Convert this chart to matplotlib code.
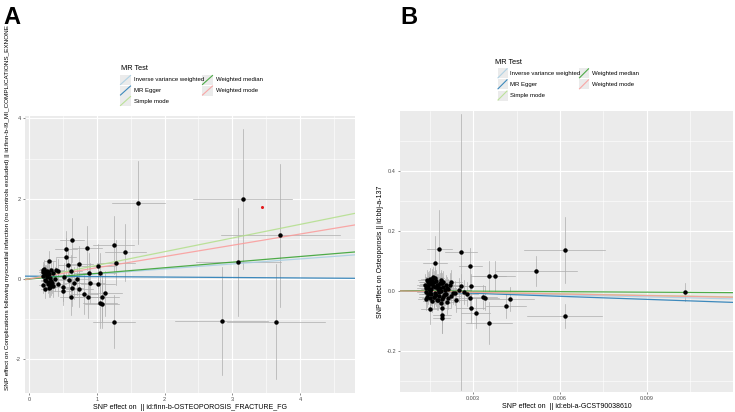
import matplotlib
matplotlib.use("Agg")
import matplotlib.pyplot as plt
from matplotlib.patches import Rectangle
from matplotlib.lines import Line2D
import numpy as np

plt.rcParams['font.family'] = ['Liberation Sans', 'DejaVu Sans']

W, H = 735, 412

# ---------------- Panel A data ----------------
a_x = [1.61, 3.15, 3.71, 3.09, 2.84, 3.64, 1.25, 1.25, 1.42, 1.28, 0.63, 0.85, 0.55, 0.55,
       0.58, 0.74, 1.02, 1.04, 0.89, 1.02, 0.90, 1.12, 1.07, 1.05, 1.08, 0.87, 0.81, 0.74,
       0.62, 0.64, 0.66, 0.71, 0.59, 0.62, 0.51, 0.50, 0.50, 0.43, 0.40, 0.43, 0.38, 0.30,
       0.21, 0.22, 0.23, 0.22, 0.20, 0.24, 0.26, 0.25, 0.27, 0.23, 0.21, 0.24, 0.28, 0.30,
       0.31, 0.29, 0.33, 0.35, 0.32, 0.34, 0.30, 0.27, 0.36, 0.25, 0.20, 0.28, 0.31, 0.33]
a_y = [1.90, 1.99, 1.09, 0.42, -1.05, -1.06, -1.06, 0.855, 0.66, 0.41, 0.98, 0.78, 0.75, 0.56,
       0.35, 0.37, 0.33, 0.14, 0.15, -0.13, -0.09, -0.36, -0.44, -0.61, -0.63, -0.46, -0.37, -0.25,
       -0.44, -0.23, -0.11, -0.01, -0.03, 0.19, 0.06, -0.19, -0.29, -0.13, 0.23, 0.20, 0.00, 0.45,
       0.22, 0.18, 0.12, 0.25, 0.08, 0.15, 0.20, 0.14, 0.10, -0.02, -0.15, -0.25, -0.12, -0.08,
       -0.20, -0.22, 0.22, 0.15, -0.05, -0.10, 0.12, 0.05, -0.18, -0.05, 0.17, 0.18, 0.02, -0.14]
a_sex = [0.39, 0.73, 0.88, 0.63, 0.68, 0.72, 0.31, 0.30, 0.30, 0.28, 0.18, 0.22, 0.16, 0.15,
         0.15, 0.20, 0.25, 0.25, 0.22, 0.25, 0.22, 0.25, 0.25, 0.25, 0.25, 0.22, 0.20, 0.20,
         0.16, 0.16, 0.16, 0.18, 0.15, 0.16, 0.14, 0.14, 0.14, 0.12, 0.11, 0.12, 0.10, 0.08,
         0.06, 0.06, 0.07, 0.06, 0.05, 0.07, 0.07, 0.07, 0.08, 0.06, 0.06, 0.07, 0.08, 0.08,
         0.09, 0.08, 0.09, 0.10, 0.09, 0.09, 0.08, 0.07, 0.10, 0.07, 0.05, 0.08, 0.09, 0.09]
a_sey = [1.04, 1.75, 1.78, 1.35, 1.35, 1.43, 0.65, 0.72, 0.72, 0.55, 0.55, 0.55, 0.45, 0.45,
         0.40, 0.45, 0.55, 0.50, 0.50, 0.50, 0.50, 0.55, 0.60, 0.60, 0.60, 0.50, 0.50, 0.45,
         0.45, 0.45, 0.40, 0.40, 0.40, 0.40, 0.35, 0.35, 0.35, 0.30, 0.30, 0.30, 0.30, 0.25,
         0.20, 0.20, 0.20, 0.22, 0.18, 0.20, 0.22, 0.20, 0.22, 0.20, 0.20, 0.22, 0.24, 0.25,
         0.25, 0.24, 0.26, 0.28, 0.25, 0.26, 0.24, 0.22, 0.28, 0.22, 0.18, 0.24, 0.25, 0.26]
a_red_x = [3.44]
a_red_y = [1.79]

# ---------------- Panel B data ----------------
b_x = [0.00183, 0.00258, 0.00169, 0.00290, 0.00354, 0.00375, 0.00518, 0.00616, 0.00616, 0.01033,
       0.00355, 0.00310, 0.00292, 0.00414, 0.00429, 0.00340, 0.00333, 0.00290, 0.00292, 0.00260,
       0.00223, 0.00220, 0.00253, 0.00268, 0.00278, 0.00238, 0.00240, 0.00192, 0.00193, 0.00193,
       0.00150, 0.00210, 0.00190,
       0.00135, 0.00140, 0.00145, 0.00150, 0.00155, 0.00160, 0.00165, 0.00170, 0.00175, 0.00180,
       0.00185, 0.00190, 0.00195, 0.00200, 0.00205, 0.00210, 0.00215, 0.00138, 0.00143, 0.00148,
       0.00153, 0.00158, 0.00163, 0.00168, 0.00173, 0.00178, 0.00183, 0.00188, 0.00193, 0.00198,
       0.00203, 0.00136, 0.00142, 0.00147, 0.00152, 0.00157, 0.00162, 0.00167, 0.00172, 0.00177,
       0.00182, 0.00187, 0.00192, 0.00197, 0.00202, 0.00207, 0.00139, 0.00144, 0.00149, 0.00154,
       0.00159, 0.00164, 0.00169, 0.00174, 0.00179, 0.00184, 0.00189, 0.00212, 0.00225, 0.00230]
b_y = [0.138, 0.129, 0.091, 0.082, 0.050, 0.048, 0.067, 0.137, -0.084, -0.005,
       -0.107, -0.075, -0.058, -0.050, -0.028, -0.025, -0.022, -0.026, 0.016, 0.016,
       0.030, 0.019, 0.002, -0.003, -0.011, -0.009, -0.030, -0.091, -0.080, -0.059,
       -0.062, -0.037, -0.040,
       0.020, 0.035, -0.010, 0.040, 0.005, 0.028, -0.020, 0.042, 0.012, -0.030,
       0.025, 0.000, 0.030, -0.015, 0.018, 0.010, -0.025, -0.005, 0.015, 0.030,
       -0.025, 0.022, 0.045, -0.008, 0.033, 0.005, -0.018, 0.026, -0.028, 0.012,
       -0.012, 0.010, -0.020, 0.022, 0.000, -0.035, 0.015, 0.030, -0.015, 0.020,
       -0.005, 0.008, 0.025, -0.020, 0.003, -0.010, -0.028, 0.028, 0.006, -0.012,
       0.038, -0.022, 0.012, -0.030, 0.020, 0.000, 0.035, 0.005, -0.018, -0.008]
b_sex = [0.00043, 0.00055, 0.00040, 0.00040, 0.00060, 0.00070, 0.00140, 0.00140, 0.00130, 0.00010,
         0.00080, 0.00050, 0.00050, 0.00070, 0.00080, 0.00050, 0.00050, 0.00050, 0.00050, 0.00040,
         0.00040, 0.00040, 0.00040, 0.00040, 0.00040, 0.00040, 0.00040, 0.00030, 0.00030, 0.00030,
         0.00030, 0.00030, 0.00030] + [0.00030] * 60
b_sey = [0.130, 0.460, 0.090, 0.060, 0.050, 0.050, 0.050, 0.110, 0.040, 0.030,
         0.070, 0.050, 0.050, 0.040, 0.040, 0.040, 0.040, 0.040, 0.040, 0.040,
         0.040, 0.040, 0.040, 0.040, 0.040, 0.040, 0.040, 0.050, 0.060, 0.050,
         0.050, 0.040, 0.040] + [0.035] * 60

# ---------------- MR method lines ----------------
methods = ["Inverse variance weighted", "MR Egger", "Simple mode", "Weighted median", "Weighted mode"]
colors = ["#a6cee3", "#1f78b4", "#b2df8a", "#33a02c", "#fb9a99"]
a_intercepts = [0.0, 0.07, 0.0, 0.0, 0.0]
a_slopes = [0.125, -0.011, 0.34, 0.14, 0.28]
b_intercepts = [0.0, 0.0015, 0.0, 0.0, 0.0]
b_slopes = [-2.3, -3.4, -1.75, -0.56, -1.85]

a_xticks = [0, 1, 2, 3, 4]
a_yticks = [-2, 0, 2, 4]
b_xticks = [0.003, 0.006, 0.009]
b_yticks = [-0.2, 0.0, 0.2, 0.4]
b_xticklabels = ["0.003", "0.006", "0.009"]
b_yticklabels = ["-0.2", "0.0", "0.2", "0.4"]

a_xlabel = "SNP effect on  || id:finn-b-OSTEOPOROSIS_FRACTURE_FG"
a_ylabel = "SNP effect on Complications following myocardial infarction (no controls excluded) || id:finn-b-I9_MI_COMPLICATIONS_EXNONE"
b_xlabel = "SNP effect on  || id:ebi-a-GCST90038610"
b_ylabel = "SNP effect on Osteoporosis || id:bbj-a-137"

fig = plt.figure(figsize=(W / 100, H / 100), dpi=100)
fig.patch.set_facecolor("white")


def fx(px):
    return px / W


def fy(py):
    return 1 - py / H


def make_ax(l, t, r, b):
    return fig.add_axes([fx(l), fy(b), fx(r) - fx(l), fy(t) - fy(b)])


def style(ax, xlim, ylim, xt, yt, xtl, ytl, xminor, yminor):
    ax.set_facecolor("#EBEBEB")
    ax.set_xlim(*xlim)
    ax.set_ylim(*ylim)
    for s in ax.spines.values():
        s.set_visible(False)
    for v in xminor:
        ax.axvline(v, color="white", lw=0.4, zorder=0)
    for v in yminor:
        ax.axhline(v, color="white", lw=0.4, zorder=0)
    for v in xt:
        ax.axvline(v, color="white", lw=0.8, zorder=0)
    for v in yt:
        ax.axhline(v, color="white", lw=0.8, zorder=0)
    ax.set_xticks(xt)
    ax.set_yticks(yt)
    ax.set_xticklabels(xtl)
    ax.set_yticklabels(ytl)
    ax.tick_params(axis="both", length=1.5, width=0.4, color="#333333",
                   labelsize=4, labelcolor="#4D4D4D", pad=1.5)


def draw_panel(ax, xs, ys, sex, sey, ints, slopes, xlim):
    for x, y, ex, ey in zip(xs, ys, sex, sey):
        ax.plot([x, x], [y - ey, y + ey], color="#ADADAD", lw=0.5, zorder=2)
        ax.plot([x - ex, x + ex], [y, y], color="#ADADAD", lw=0.5, zorder=2)
    xx = np.array(xlim)
    for c, i0, s in zip(colors, ints, slopes):
        ax.plot(xx, i0 + s * xx, color=c, lw=0.9, alpha=0.85, zorder=3)
    ax.plot(xs, ys, "o", color="black", ms=2.2, zorder=4)


# Panel A
axA = make_ax(25, 116, 355, 393)
a_xlim = (-0.06, 4.81)
a_ylim = (-2.84, 4.06)
style(axA, a_xlim, a_ylim, a_xticks, a_yticks, [str(t) for t in a_xticks],
      [str(t) for t in a_yticks], [0.5, 1.5, 2.5, 3.5, 4.5], [-1, 1, 3])
draw_panel(axA, a_x, a_y, a_sex, a_sey, a_intercepts, a_slopes, a_xlim)
axA.plot(a_red_x, a_red_y, "o", color="#e31a1c", ms=1.2, zorder=4)
axA.set_xlabel(a_xlabel, fontsize=5, labelpad=1.5, color="black")
fig.text(fx(8), fy(208), a_ylabel, rotation=90, fontsize=4.6, ha="center", va="center")

# Panel B
axB = make_ax(400, 111, 733, 392)
b_xlim = (0.00048, 0.01197)
b_ylim = (-0.338, 0.599)
style(axB, b_xlim, b_ylim, b_xticks, b_yticks, b_xticklabels, b_yticklabels,
      [0.0015, 0.0045, 0.0075, 0.0105], [-0.3, -0.1, 0.1, 0.3, 0.5])
draw_panel(axB, b_x, b_y, b_sex, b_sey, b_intercepts, b_slopes, b_xlim)
axB.set_xlabel(b_xlabel, fontsize=5, labelpad=1.5, color="black")
axB.set_ylabel(b_ylabel, fontsize=5, labelpad=2, color="black")

# Panel letters
fig.text(fx(3), fy(18), "A", fontsize=17, fontweight="bold", ha="left", va="center")
fig.text(fx(400), fy(18), "B", fontsize=17, fontweight="bold", ha="left", va="center")


def legend(tx, ty, rows_y, col_x, lab_x, kw, kh):
    fig.text(fx(tx), fy(ty), "MR Test", fontsize=5.3, ha="left", va="center")
    order = [(0, 0), (0, 1), (0, 2), (1, 0), (1, 1)]
    for m, c, (ci, ri) in zip(methods, colors, order):
        x0 = col_x[ci]
        yc = rows_y[ri]
        fig.add_artist(Rectangle((fx(x0), fy(yc + kh / 2)), kw / W, kh / H,
                                 transform=fig.transFigure, facecolor="#EBEBEB",
                                 edgecolor="none"))
        fig.add_artist(Line2D([fx(x0 + 0.5), fx(x0 + kw - 0.5)],
                              [fy(yc + kh / 2 - 0.5), fy(yc - kh / 2 + 0.5)],
                              transform=fig.transFigure, color=c, lw=0.8, alpha=0.85))
        fig.text(fx(lab_x[ci]), fy(yc), m, fontsize=4.3, ha="left", va="center")


legend(121, 68, [80, 90.5, 101], [120, 202], [134.5, 216], 11, 10)
legend(495, 62, [73.3, 84.3, 95.5], [497.5, 579], [510, 591.5], 10, 10)

fig.savefig("out.png", dpi=100, facecolor="white")
